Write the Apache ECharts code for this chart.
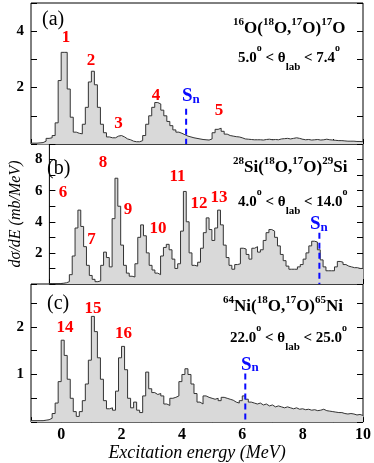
<!DOCTYPE html>
<html>
<head>
<meta charset="utf-8">
<script src="https://cdn.jsdelivr.net/npm/echarts@6/dist/echarts.min.js"></script>
<style>
  html, body { margin: 0; padding: 0; background: #fff; }
  #chart { width: 374px; height: 463px; }
</style>
</head>
<body>
<div id="chart"></div>
<script>
// histogram bins: left edges start at -1.0 MeV, 0.1 MeV wide
var binStart = -1.0;
var binWidth = 0.1;

// (a) 16O(18O,17O)17O, mb/MeV per bin
var oxygen = [
  0.03, 0.03, 0.04, 0.05, 0.1, 0.2, 0.22, 0.3, 0.75, 2.25,
  3.25, 3.25, 1.95, 0.95, 0.42, 0.38, 0.36, 0.7, 1.3, 2.2,
  2.58, 2.1, 1.3, 0.7, 0.4, 0.25, 0.22, 0.22, 0.28, 0.3,
  0.25, 0.18, 0.15, 0.1, 0.08, 0.08, 0.12, 0.3, 0.7, 1.0,
  1.3, 1.47, 1.42, 1.2, 1.0, 0.8, 0.65, 0.5, 0.42, 0.38,
  0.33, 0.28, 0.25, 0.22, 0.2, 0.18, 0.16, 0.15, 0.14, 0.18,
  0.4, 0.52, 0.56, 0.45, 0.35, 0.3, 0.28, 0.26, 0.25, 0.22,
  0.18, 0.17, 0.16, 0.15, 0.15, 0.15, 0.14, 0.16, 0.17, 0.15,
  0.16, 0.15, 0.18, 0.19, 0.2, 0.18, 0.2, 0.22, 0.2, 0.17,
  0.15, 0.16, 0.14, 0.15, 0.16, 0.14, 0.15, 0.17, 0.15, 0.14,
  0.13, 0.12, 0.12, 0.11, 0.1, 0.1, 0.1, 0.09, 0.09, 0.08
];

// (b) 28Si(18O,17O)29Si
var silicon = [
  0.02, 0.02, 0.02, 0.03, 0.05, 0.08, 0.15, 0.6, 1.8, 3.6,
  4.75, 3.7, 2.4, 1.2, 0.55, 0.3, 0.15, 0.2, 1.2, 2.05,
  1.7, 1.1, 4.2, 6.8, 5.0, 2.5, 1.2, 0.7, 0.5, 0.45,
  1.3, 3.0, 3.8, 3.1, 2.0, 1.2, 0.9, 0.7, 0.6, 1.8,
  2.35, 2.55, 2.2, 1.6, 1.0, 1.3, 3.4, 5.95, 4.0, 2.0,
  1.2, 1.15, 1.4, 2.3, 3.3, 4.25, 3.5, 2.8, 3.6, 4.75,
  3.8, 2.5, 1.7, 1.2, 0.95, 1.25, 1.3, 2.3, 2.25, 1.9,
  1.6, 2.3, 2.4, 2.05, 2.2, 2.8, 3.3, 3.5, 3.4, 3.0,
  2.45, 1.9, 1.5, 1.15, 0.95, 0.95, 0.95, 1.1, 1.25, 1.6,
  2.0, 2.45, 2.75, 2.7, 2.2, 1.55, 1.1, 0.85, 0.85, 0.85,
  1.1, 1.45, 1.4, 1.25, 1.15, 1.1, 1.05, 1.05, 1.0, 1.0
];

// (c) 64Ni(18O,17O)65Ni
var nickel = [
  0.03, 0.03, 0.03, 0.03, 0.04, 0.05, 0.08, 0.18, 0.4, 0.85,
  1.72, 1.4, 0.9, 0.5, 0.22, 0.12, 0.22, 0.45, 0.8, 1.3,
  2.22, 1.9, 1.35, 0.9, 0.45, 0.28, 0.3, 0.25, 0.65, 1.35,
  1.59, 1.1, 0.5, 0.3, 0.42, 0.25, 0.2, 0.55, 1.05, 0.7,
  0.62, 0.58, 0.6, 0.55, 0.38, 0.35, 0.5, 0.52, 0.55, 0.85,
  1.0, 1.12, 1.0, 0.8, 0.6, 0.42, 0.38, 0.55, 0.52, 0.5,
  0.48, 0.5, 0.45, 0.52, 0.5, 0.48, 0.46, 0.42, 0.4, 0.45,
  0.55, 0.48, 0.42, 0.4, 0.38, 0.4, 0.36, 0.38, 0.34, 0.36,
  0.32, 0.34, 0.32, 0.3, 0.32, 0.3, 0.28, 0.3, 0.27, 0.28,
  0.26, 0.27, 0.25, 0.26, 0.24, 0.25, 0.27, 0.24, 0.23, 0.22,
  0.21, 0.2, 0.2, 0.18, 0.17, 0.18, 0.17, 0.15, 0.16, 0.14
];

// neutron separation energies and the height of each dashed marker
var snEnergy = [4.14, 8.47, 6.10];
var snTop = [1.25, 3.3, 1.02];

var yMax = [5, 9, 2.9];
var yStep = [1, 1, 0.5];
var yLabels = [[2, 4], [2, 4, 6, 8], [1, 2]];
var xLabels = [0, 2, 4, 6, 8, 10];

var serif = "'Liberation Serif', 'DejaVu Serif', serif";
var red = '#ff0000';
var blue = '#0a0aff';

function histogram(values) {
  var pts = values.map(function (v, i) {
    return [binStart + i * binWidth, v];
  });
  pts.push([binStart + values.length * binWidth, values[values.length - 1]]);
  return pts;
}

var panels = [oxygen, silicon, nickel];
var grids = [
  { left: 31, right: 11, top: 3, height: 141 },
  { left: 31, right: 11, top: 144, height: 140 },
  { left: 31, right: 11, top: 284, height: 140 }
];

var xAxes = [], yAxes = [], series = [];
panels.forEach(function (vals, k) {
  grids[k].show = true;
  grids[k].borderColor = '#000';
  grids[k].borderWidth = 1;

  xAxes.push({
    type: 'value', gridIndex: k, min: -1, max: 10, interval: 1,
    axisLine: { show: false, onZero: false },
    axisTick: { inside: true, length: 5, lineStyle: { color: '#000' } },
    splitLine: { show: false },
    axisLabel: {
      show: k === 2, margin: 5,
      color: '#000', fontFamily: serif, fontWeight: 'bold', fontSize: 16,
      formatter: function (v) { return xLabels.indexOf(v) >= 0 ? String(v) : ''; }
    },
    name: k === 2 ? 'Excitation energy (MeV)' : '',
    nameLocation: 'middle', nameGap: 21,
    nameTextStyle: { color: '#000', fontFamily: serif, fontStyle: 'italic', fontSize: 18 }
  });

  ['left', 'right'].forEach(function (pos) {
    yAxes.push({
      type: 'value', gridIndex: k, position: pos, min: 0, max: yMax[k], interval: yStep[k],
      axisLine: { show: false, onZero: false },
      axisTick: { inside: true, length: 6, lineStyle: { color: '#000' } },
      splitLine: { show: false },
      axisLabel: {
        show: pos === 'left', margin: 7,
        color: '#000', fontFamily: serif, fontWeight: 'bold', fontSize: 15,
        formatter: function (v) { return yLabels[k].indexOf(v) >= 0 ? String(v) : ''; }
      },
      name: (k === 1 && pos === 'left') ? 'd\u03c3/dE (mb/MeV)' : '',
      nameLocation: 'middle', nameGap: 12,
      nameTextStyle: { color: '#000', fontFamily: serif, fontStyle: 'italic', fontSize: 16 }
    });
  });

  series.push({
    type: 'line', xAxisIndex: k, yAxisIndex: 2 * k,
    data: histogram(vals), step: 'end', symbol: 'none', silent: true,
    lineStyle: { color: '#333', width: 1 },
    areaStyle: { color: '#d9d9d9', opacity: 1 },
    z: 2
  });
  series.push({
    type: 'line', xAxisIndex: k, yAxisIndex: 2 * k,
    data: [[snEnergy[k], snTop[k]], [snEnergy[k], 0]], symbol: 'none', silent: true,
    lineStyle: { color: blue, width: 2, type: [6, 4] },
    z: 3
  });
});

function label(text, x, y, color, size) {
  return {
    type: 'text', z: 10,
    style: {
      text: text, x: x, y: y, fill: color,
      font: 'bold ' + size + 'px ' + serif, align: 'center', verticalAlign: 'middle'
    }
  };
}

var titleRich = {
  m: { font: 'bold 17px ' + serif, lineHeight: 24, verticalAlign: 'middle' },
  p: { font: 'bold 11px ' + serif, lineHeight: 13, verticalAlign: 'top' }
};
var angleRich = {
  m: { font: 'bold 15px ' + serif, lineHeight: 30, verticalAlign: 'middle' },
  p: { font: 'bold 10px ' + serif, lineHeight: 20, verticalAlign: 'top' },
  s: { font: 'bold 11px ' + serif, lineHeight: 9, verticalAlign: 'bottom' }
};
var snRich = {
  s: { font: 'bold 19px ' + serif, lineHeight: 20, verticalAlign: 'bottom', fill: blue },
  n: { font: 'bold 13px ' + serif, lineHeight: 12, verticalAlign: 'bottom', fill: blue }
};

function rich(text, x, y, styles) {
  return {
    type: 'text', z: 10,
    style: { text: text, x: x, y: y, fill: '#000', rich: styles, align: 'left', verticalAlign: 'middle' }
  };
}

var graphics = [
  { type: 'text', z: 10, style: { text: '(a)', x: 42, y: 20, font: '20px ' + serif, fill: '#000', verticalAlign: 'middle' } },
  { type: 'text', z: 10, style: { text: '(b)', x: 47, y: 169, font: '20px ' + serif, fill: '#000', verticalAlign: 'middle' } },
  { type: 'text', z: 10, style: { text: '(c)', x: 47, y: 304, font: '20px ' + serif, fill: '#000', verticalAlign: 'middle' } },

  rich('{p|16}{m|O(}{p|18}{m|O,}{p|17}{m|O)}{p|17}{m|O}', 233, 28.5, titleRich),
  rich('{m|5.0}{p|o}{m| < \u03b8}{s|lab}{m| < 7.4}{p|o}', 238, 58, angleRich),
  rich('{p|28}{m|Si(}{p|18}{m|O,}{p|17}{m|O)}{p|29}{m|Si}', 233, 168, titleRich),
  rich('{m|4.0}{p|o}{m| < \u03b8}{s|lab}{m| < 14.0}{p|o}', 238, 202, angleRich),
  rich('{p|64}{m|Ni(}{p|18}{m|O,}{p|17}{m|O)}{p|65}{m|Ni}', 223, 307, titleRich),
  rich('{m|22.0}{p|o}{m| < \u03b8}{s|lab}{m| < 25.0}{p|o}', 230, 338, angleRich),

  rich('{s|S}{n|n}', 182, 96, snRich),
  rich('{s|S}{n|n}', 310, 224, snRich),
  rich('{s|S}{n|n}', 241, 364.5, snRich),

  label('1', 66, 38, red, 17),
  label('2', 91, 61, red, 17),
  label('3', 118.5, 124, red, 17),
  label('4', 156, 96, red, 17),
  label('5', 219, 111, red, 17),
  label('6', 63, 193, red, 17),
  label('7', 91.5, 240, red, 17),
  label('8', 103, 163, red, 17),
  label('9', 128, 210, red, 17),
  label('10', 158, 229, red, 17),
  label('11', 177.5, 177, red, 17),
  label('12', 199, 204, red, 17),
  label('13', 219, 198, red, 17),
  label('14', 65, 327.5, red, 17),
  label('15', 93, 309, red, 17),
  label('16', 123.5, 334, red, 17)
];

var chart = echarts.init(document.getElementById('chart'));
chart.setOption({
  animation: false,
  backgroundColor: '#fff',
  grid: grids,
  xAxis: xAxes,
  yAxis: yAxes,
  series: series,
  graphic: graphics
});
</script>
</body>
</html>
